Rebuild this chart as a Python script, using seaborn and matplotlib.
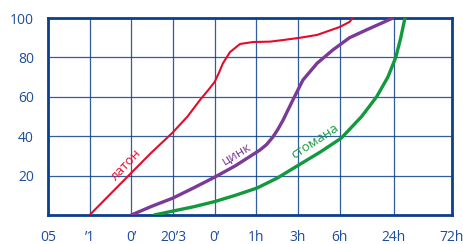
import matplotlib
matplotlib.use("Agg")
import matplotlib.pyplot as plt
import seaborn as sns
import pandas as pd

sns.set_style("white")
plt.rcParams['font.family'] = ['Open Sans', 'DejaVu Sans']

# -----------------------------
# DATA (x in tick-position units)
# -----------------------------
tick_pos = [0, 1, 2, 3, 4, 5, 6, 7, 8.3, 9.7]
tick_labels = ["05", "’1", "0’", "20’3", "0’", "1h", "3h", "6h", "24h", "72h"]
y_ticks = [20, 40, 60, 80, 100]

brass_x = [1.0, 2.45, 3.0, 3.35, 3.65, 3.85, 4.0, 4.1, 4.2, 4.37, 4.61, 4.92, 5.33, 5.64, 6.06, 6.46, 7.0, 7.24, 7.31]
brass_y = [0, 31, 42, 50, 58.4, 63.5, 67.5, 72, 77, 82.7, 86.8, 87.8, 88, 88.8, 90, 91.4, 95.4, 98, 100]

zinc_x = [2.0, 2.5, 3.0, 3.5, 4.01, 4.5, 5.09, 5.25, 5.4, 5.52, 5.64, 5.88, 6.12, 6.46, 6.84, 7.24, 7.65, 8.0, 8.28]
zinc_y = [0, 4.5, 8.6, 13.8, 19.3, 25, 33, 35.8, 39.6, 43.5, 48, 58.4, 68.5, 77, 83.8, 90, 94, 97.3, 100]

steel_x = [2.55, 3.0, 3.5, 4.0, 4.5, 5.02, 5.5, 6.03, 6.54, 7.04, 7.53, 7.89, 8.16, 8.35, 8.47, 8.57]
steel_y = [0, 2, 4.2, 6.8, 10, 13.7, 18.7, 25.5, 32, 39, 50, 60, 70, 80, 90, 100]

labels = ["латон", "цинк", "стомана"]
colors = ["#e30b2a", "#7a3a96", "#12993e"]

blue = "#0d3f8f"

# -----------------------------
# FIGURE
# -----------------------------
fig = plt.figure(figsize=(4.64, 2.44), dpi=100)
ax = fig.add_axes([48 / 464, 29 / 244, 404 / 464, 197 / 244])

series = [(brass_x, brass_y, 1.5), (zinc_x, zinc_y, 2.4), (steel_x, steel_y, 2.4)]
for (xs, ys, lw), name, c in zip(series, labels, colors):
    df = pd.DataFrame({"x": xs, "y": ys})
    sns.lineplot(data=df, x="x", y="y", sort=False, estimator=None,
                 color=c, linewidth=lw, ax=ax, zorder=3)

ax.set_xlim(0, 9.7)
ax.set_ylim(0, 100)
ax.set_xticks(tick_pos)
ax.set_xticklabels(tick_labels)
ax.set_yticks(y_ticks)
ax.set_xlabel("")
ax.set_ylabel("")

ax.grid(True, color=blue, linewidth=0.9, alpha=0.85)
for s in ax.spines.values():
    s.set_color(blue)
    s.set_linewidth(2)
    s.set_visible(True)
ax.tick_params(axis="both", length=0, labelsize=10, labelcolor="#1c4e9a")
ax.tick_params(axis="x", pad=11)
ax.tick_params(axis="y", pad=10)

# curve labels
ax.text(1.87, 25.5, labels[0], color=colors[0], fontsize=9.5, rotation=47,
        ha="center", va="center")
ax.text(4.52, 31, labels[1], color=colors[1], fontsize=9.5, rotation=31,
        ha="center", va="center")
ax.text(6.42, 37.5, labels[2], color=colors[2], fontsize=9.5, rotation=33,
        ha="center", va="center")

fig.savefig("out.png", dpi=100)
